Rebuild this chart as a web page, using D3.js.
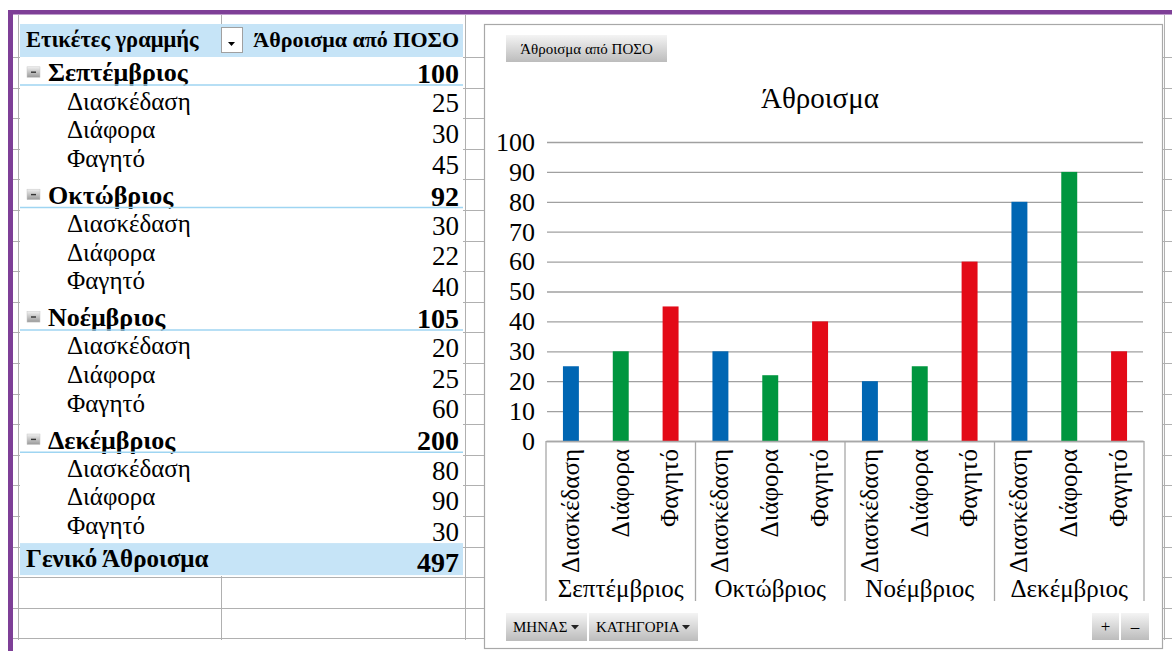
<!DOCTYPE html>
<html>
<head>
<meta charset="utf-8">
<script src="https://cdn.jsdelivr.net/npm/d3@7"></script>
<style>
  html, body { margin: 0; padding: 0; background: #fff; }
  svg { display: block; }
  text { font-family: "Liberation Serif", "DejaVu Serif", serif; fill: #000; }
</style>
</head>
<body>
<svg id="sheet" width="1172" height="651"></svg>
<script>
// Pivot data: monthly spending per category
const months = ["Σεπτέμβριος", "Οκτώβριος", "Νοέμβριος", "Δεκέμβριος"];
const categories = ["Διασκέδαση", "Διάφορα", "Φαγητό"];
const entertainment = [25, 30, 20, 80];
const miscellaneous = [30, 22, 25, 90];
const food = [45, 40, 60, 30];
const yTicks = [0, 10, 20, 30, 40, 50, 60, 70, 80, 90, 100];
const seriesColors = ["#0066b3", "#00963f", "#e30a17"];

const headerLabel = "Ετικέτες γραμμής";
const headerValue = "Άθροισμα από ΠΟΣΟ";
const totalLabel = "Γενικό Άθροισμα";
const chartTitle = "Άθροισμα";
const fieldButtons = ["ΜΗΝΑΣ", "ΚΑΤΗΓΟΡΙΑ"];

const seriesByCategory = [entertainment, miscellaneous, food];
const records = [];
months.forEach((m, i) => categories.forEach((c, j) => {
  records.push({ month: m, category: c, value: seriesByCategory[j][i], ci: j });
}));
const monthTotals = months.map((m, i) => d3.sum(seriesByCategory, s => s[i]));
const grandTotal = d3.sum(monthTotals);

const svg = d3.select("#sheet");
svg.append("rect").attr("width", 1172).attr("height", 651).attr("fill", "#fff");

// ---- spreadsheet gridlines behind everything ----
const rowTop = 57, rowH = 30.6;
const grid = svg.append("g").attr("stroke", "#b0b0b0").attr("stroke-width", 1);
d3.range(0, 20).forEach(k => {
  const yy = Math.round(rowTop + k * rowH) + 0.5;
  grid.append("line").attr("x1", 13).attr("x2", 1172).attr("y1", yy).attr("y2", yy);
});
[18.5, 221.5, 465.5, 1164.5].forEach(xx => {
  grid.append("line").attr("x1", xx).attr("x2", xx).attr("y1", 15).attr("y2", 640);
});

// ---- purple frame ----
svg.append("rect").attr("x", 8).attr("y", 10).attr("width", 1164).attr("height", 4.5).attr("fill", "#7e3f97");
svg.append("rect").attr("x", 8).attr("y", 10).attr("width", 5).attr("height", 641).attr("fill", "#7e3f97");

// ---- gradients ----
const defs = svg.append("defs");
const btnGrad = defs.append("linearGradient").attr("id", "btn").attr("x1", 0).attr("y1", 0).attr("x2", 0).attr("y2", 1);
btnGrad.append("stop").attr("offset", "0%").attr("stop-color", "#f4f4f4");
btnGrad.append("stop").attr("offset", "100%").attr("stop-color", "#bcbcbc");
const boxGrad = defs.append("linearGradient").attr("id", "box").attr("x1", 0).attr("y1", 0).attr("x2", 0).attr("y2", 1);
boxGrad.append("stop").attr("offset", "0%").attr("stop-color", "#f0f0f0");
boxGrad.append("stop").attr("offset", "100%").attr("stop-color", "#9a9a9a");

// ---- pivot table ----
const tX0 = 20, tX1 = 463;
const table = svg.append("g");
table.append("rect").attr("x", tX0).attr("y", 24).attr("width", tX1 - tX0).attr("height", 552).attr("fill", "#fff");
table.append("rect").attr("x", tX0).attr("y", 24).attr("width", tX1 - tX0).attr("height", 33).attr("fill", "#c6e4f7");
table.append("text").attr("x", 26).attr("y", 47).attr("font-weight", "bold").attr("font-size", 22.5).text(headerLabel);
table.append("rect").attr("x", 221.5).attr("y", 27.5).attr("width", 21).attr("height", 25)
  .attr("fill", "#fff").attr("stroke", "#a0a0a0");
table.append("path").attr("d", "M228,42 h7 l-3.5,4 z").attr("fill", "#000");
table.append("text").attr("x", 459).attr("y", 47).attr("text-anchor", "end")
  .attr("font-weight", "bold").attr("font-size", 22).text(headerValue);

let row = 0;
months.forEach((m, i) => {
  const cy = rowTop + (row + 0.5) * rowH;
  const bottom = rowTop + (row + 1) * rowH;
  table.append("rect").attr("x", 27).attr("y", cy - 5.5).attr("width", 13).attr("height", 10.5)
    .attr("fill", "url(#box)").attr("stroke", "#c8c8c8").attr("stroke-width", 0.5);
  table.append("rect").attr("x", 31).attr("y", cy - 0.8).attr("width", 5).attr("height", 1.4).attr("fill", "#333");
  table.append("text").attr("x", 48).attr("y", cy).attr("dy", "0.35em")
    .attr("font-weight", "bold").attr("font-size", 26).text(m);
  table.append("text").attr("x", 459).attr("y", cy + 1).attr("dy", "0.35em").attr("text-anchor", "end")
    .attr("font-weight", "bold").attr("font-size", 28).text(monthTotals[i]);
  table.append("line").attr("x1", tX0).attr("x2", tX1).attr("y1", bottom - 2.5).attr("y2", bottom - 2.5)
    .attr("stroke", "#9fd5f2").attr("stroke-width", 1.5);
  row++;
  categories.forEach((c, j) => {
    const sy = rowTop + (row + 0.5) * rowH;
    table.append("text").attr("x", 67).attr("y", sy - 2 - 2 * j).attr("dy", "0.35em")
      .attr("font-size", 25).text(c);
    table.append("text").attr("x", 459).attr("y", sy).attr("dy", "0.35em").attr("text-anchor", "end")
      .attr("font-size", 27).text(seriesByCategory[j][i]);
    row++;
  });
});
const totalTop = rowTop + row * rowH - 3.5;
table.append("rect").attr("x", tX0).attr("y", totalTop).attr("width", tX1 - tX0).attr("height", 32).attr("fill", "#c6e4f7");
table.append("text").attr("x", 26).attr("y", totalTop + 15).attr("dy", "0.35em")
  .attr("font-weight", "bold").attr("font-size", 25).text(totalLabel);
table.append("text").attr("x", 459).attr("y", totalTop + 19).attr("dy", "0.35em").attr("text-anchor", "end")
  .attr("font-weight", "bold").attr("font-size", 28).text(grandTotal);

// ---- pivot chart ----
const chart = svg.append("g");
chart.append("rect").attr("x", 484.5).attr("y", 24.5).attr("width", 678).attr("height", 624)
  .attr("fill", "#fff").attr("stroke", "#a8a8a8").attr("stroke-width", 1.2);

function button(g, x, y, w, h, label, arrow, size) {
  g.append("rect").attr("x", x).attr("y", y).attr("width", w).attr("height", h).attr("fill", "url(#btn)");
  g.append("text").attr("x", arrow ? x + 7 : x + w / 2).attr("y", y + h / 2).attr("dy", "0.35em")
    .attr("text-anchor", arrow ? "start" : "middle").attr("font-size", size).attr("fill", "#222").text(label);
  if (arrow) {
    const ax = x + w - 12, ay = y + h / 2 - 2;
    g.append("path").attr("d", `M${ax - 4},${ay} h8 l-4,4.5 z`).attr("fill", "#222");
  }
}
button(chart, 506, 35, 161, 27, headerValue, false, 15);
button(chart, 506, 613, 81, 28, fieldButtons[0], true, 15);
button(chart, 589, 613, 109, 28, fieldButtons[1], true, 15);
button(chart, 1092, 613, 27, 27, "+", false, 17);
button(chart, 1121, 613, 28, 27, "–", false, 17);

chart.append("text").attr("x", 820).attr("y", 108).attr("text-anchor", "middle").attr("font-size", 29).text(chartTitle);

const plotX0 = 547, plotX1 = 1144;
const y = d3.scaleLinear().domain([0, 100]).range([441, 142]);
const xMonth = d3.scaleBand().domain(months).range([546, 1144]).padding(0);
const xCat = d3.scaleBand().domain(categories).range([0, xMonth.bandwidth()])
  .paddingInner(0.68).paddingOuter(0.34);

const yAxis = d3.axisLeft(y).tickValues(yTicks).tickSizeInner(-(plotX1 - plotX0 - 1)).tickSizeOuter(0).tickPadding(12);
const yg = chart.append("g").attr("transform", `translate(${plotX0},0)`).call(yAxis);
yg.select(".domain").remove();
yg.selectAll(".tick line").attr("stroke", "#a0a0a0").attr("stroke-width", 1.3);
yg.selectAll(".tick text").attr("font-size", 26).attr("font-family", "Liberation Serif").attr("fill", "#000");

// bars
chart.append("g").selectAll("rect").data(records).join("rect")
  .attr("x", d => xMonth(d.month) + xCat(d.category))
  .attr("y", d => y(d.value))
  .attr("width", xCat.bandwidth())
  .attr("height", d => y(0) - y(d.value))
  .attr("fill", d => seriesColors[d.ci]);

// category axis with month grouping
const axisG = chart.append("g").attr("stroke", "#a8a8a8").attr("stroke-width", 1.3);
axisG.append("line").attr("x1", 546).attr("x2", 1144).attr("y1", y(0) + 0.5).attr("y2", y(0) + 0.5);
months.concat([null]).forEach(m => {
  const xx = (m ? xMonth(m) : 1144);
  axisG.append("line").attr("x1", xx).attr("x2", xx).attr("y1", y(0)).attr("y2", 601);
});
chart.append("g").selectAll("text").data(records).join("text")
  .attr("transform", d => `translate(${xMonth(d.month) + xCat(d.category) + xCat.bandwidth() / 2 - 1},449) rotate(-90)`)
  .attr("text-anchor", "end").attr("dy", "0.35em").attr("font-size", 25)
  .text(d => d.category);
chart.append("g").selectAll("text").data(months).join("text")
  .attr("x", m => xMonth(m) + xMonth.bandwidth() / 2).attr("y", 597)
  .attr("text-anchor", "middle").attr("font-size", 25).text(m => m);
</script>
</body>
</html>
